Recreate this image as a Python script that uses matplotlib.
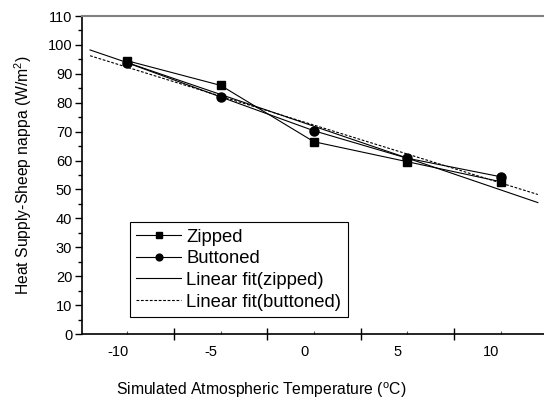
import matplotlib
matplotlib.use('Agg')
import matplotlib.pyplot as plt
import numpy as np

plt.rcParams['font.family'] = ['Liberation Sans', 'DejaVu Sans']
plt.rcParams['mathtext.fontset'] = 'custom'
plt.rcParams['mathtext.rm'] = 'Liberation Sans'
plt.rcParams['mathtext.it'] = 'Liberation Sans:italic'

# simulated atmospheric temperature (C)
temp = [-9.5, -4.5, 0.5, 5.5, 10.5]
zipped = [94.5, 86.0, 66.5, 59.6, 52.7]
buttoned = [93.8, 82.0, 70.3, 60.8, 54.4]
fit_range = [-11.5, 12.5]

xtick_labels = [-10, -5, 0, 5, 10]
yticks = list(range(0, 111, 10))

temp = np.array(temp)
fit_x = np.linspace(fit_range[0], fit_range[1], 50)
pz = np.polyfit(temp, zipped, 1)
pb = np.polyfit(temp, buttoned, 1)

fig = plt.figure(figsize=(5.44, 4.0), dpi=100)
ax = fig.add_axes([82/544, 66/400, 1 - 82/544, 318/400])

ax.plot(temp, zipped, color='black', lw=0.8, marker='s', ms=6, label='Zipped')
ax.plot(temp, buttoned, color='black', lw=0.8, marker='o', ms=6.5, label='Buttoned')
ax.plot(fit_x, np.polyval(pz, fit_x), color='black', lw=0.8, label='Linear fit(zipped)')
ax.plot(fit_x, np.polyval(pb, fit_x), color='black', lw=0.8, ls=(0, (2.5, 1.5)),
        label='Linear fit(buttoned)')

ax.set_xlim(-11.93, 12.83)
ax.set_ylim(0, 110)

ax.spines['right'].set_visible(False)
ax.spines['top'].set_color('#808080')
ax.spines['top'].set_linewidth(1.5)
ax.spines['bottom'].set_linewidth(1.2)
ax.spines['left'].set_linewidth(1.2)

# x labels without marks, crossing ticks between them
ax.set_xticks(xtick_labels)
ax.set_xticklabels([str(v) for v in xtick_labels])
ax.tick_params(axis='x', which='major', length=0, pad=8, labelsize=10.5)
ax.set_xticks([-7, -2, 3, 8], minor=True)
ax.tick_params(axis='x', which='minor', direction='inout', length=8, width=1)
sec = ax.secondary_xaxis('bottom')
sec.set_xticks(temp)
sec.set_xticklabels([''] * len(temp))
sec.tick_params(direction='in', length=2, width=0.8, color='#555555')
sec.spines['bottom'].set_visible(False)

ax.set_yticks(yticks)
ax.set_yticks(range(5, 110, 10), minor=True)
ax.tick_params(axis='y', which='major', direction='out', length=5, width=1, labelsize=10.5, pad=2)
ax.tick_params(axis='y', which='minor', direction='out', length=3, width=1)

ax.set_xlabel(r'Simulated Atmospheric Temperature ($^\mathrm{o}$C)', fontsize=11.3)
ax.xaxis.set_label_coords((261 - 82) / 462, -46 / 318)
ax.set_ylabel(r'Heat Supply-Sheep nappa (W/m$^\mathrm{2}$)', fontsize=11.3, labelpad=10)

leg = ax.legend(loc='lower left', bbox_to_anchor=(48/462, 17/318), borderaxespad=0,
                fontsize=13.3, handlelength=2.4, handletextpad=0.3, labelspacing=0.25,
                borderpad=0.35, markerscale=0.75, fancybox=False, framealpha=1,
                edgecolor='black')
leg.get_frame().set_linewidth(0.8)

fig.savefig('out.png', dpi=100)
